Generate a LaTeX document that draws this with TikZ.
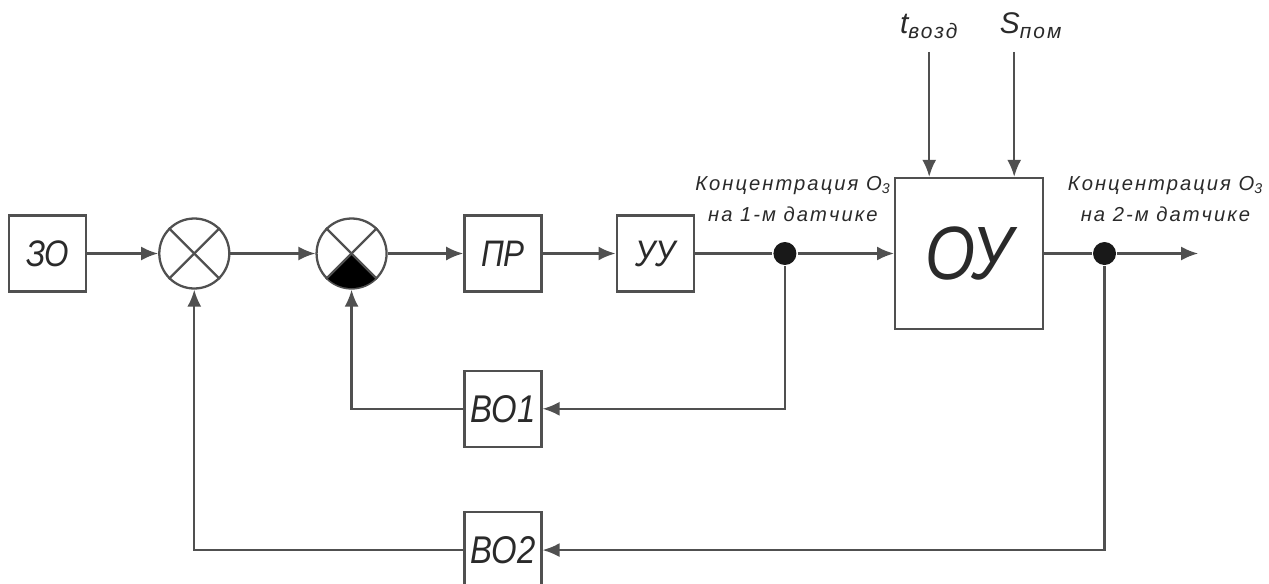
\documentclass[tikz,border=0pt]{standalone}
\usepackage{fontspec}
\setmainfont{Liberation Sans}
\newfontfamily\boxfont{Liberation Sans}[FakeStretch=0.85]
\newfontfamily\lblfont{Liberation Sans}[LetterSpace=10]
\usetikzlibrary{arrows.meta,positioning}
\definecolor{lncol}{HTML}{505050}
\definecolor{txtcol}{HTML}{2a2a2a}

\begin{document}
\begin{tikzpicture}[
    line width=1.3pt, color=lncol,
    blk/.style={draw=lncol, minimum width=1.54cm, minimum height=1.52cm, inner sep=0pt, text=txtcol, font=\boxfont\itshape\fontsize{21}{21}\selectfont},
    sum/.style={draw=lncol, circle, minimum size=1.4cm, inner sep=0pt},
    dot/.style={circle, fill=black!90, minimum size=0.46cm, inner sep=0pt},
    lbl/.style={text=txtcol, align=center, inner sep=0pt, font=\lblfont\itshape\fontsize{11.5}{17.5}\selectfont},
    arrow/.style={-{Latex[length=3.4mm,width=2.8mm]}}
]
    \useasboundingbox (0,0) rectangle (25.38,-11.66);

    \node[blk] (zo) at (0.95,-5.07) {ЗО};
    \node[sum, right=1.42cm of zo] (s1) {};
    \node[sum, right=1.70cm of s1] (s2) {};
    \node[blk, right=1.51cm of s2] (pr) {ПР};
    \node[blk, right=1.46cm of pr] (uu) {УУ};
    \node[dot, right=1.55cm of uu] (d1) {};
    \node[blk, right=1.93cm of d1, minimum width=2.96cm, minimum height=3.02cm,
          font=\boxfont\itshape\fontsize{43}{43}\selectfont] (ou) {ОУ};
    \node[dot, right=0.95cm of ou] (d2) {};
    \coordinate[right=1.62cm of d2] (out);
    \node[blk, below=1.54cm of pr, font=\boxfont\itshape\fontsize{22}{22}\selectfont] (vo1) {ВО1};
    \node[blk, below=1.26cm of vo1, font=\boxfont\itshape\fontsize{22}{22}\selectfont] (vo2) {ВО2};

    % summing junctions
    \fill[black] (s2.center) -- ++(-45:0.69) arc[start angle=-45, end angle=-135, radius=0.69] -- cycle;
    \foreach \s in {s1,s2} {
        \draw (\s.45) -- (\s.225);
        \draw (\s.135) -- (\s.-45);
    }

    % disturbances
    \coordinate (tin) at ([xshift=-0.8cm]ou.north);
    \coordinate (sin) at ([xshift=0.9cm]ou.north);
    \coordinate[above=2.5cm of tin] (ttop);
    \coordinate[above=2.5cm of sin] (sptop);
    \node[lbl, above=0.25cm of ttop, font=\lblfont\itshape\fontsize{17}{17}\selectfont] (tvozd) {t\textsubscript{возд}};
    \node[lbl, above=0.25cm of sptop, xshift=0.34cm, font=\lblfont\itshape\fontsize{17}{17}\selectfont] (spom) {S\textsubscript{пом}};

    \node[lbl] (c1) at ([xshift=0.16cm,yshift=1.09cm]d1) {Концентрация O\textsubscript{3}\\на 1-м датчике};
    \node[lbl] (c2) at ([xshift=1.22cm,yshift=1.09cm]d2) {Концентрация O\textsubscript{3}\\на 2-м датчике};

    \draw[arrow] (zo) -- (s1);
    \draw[arrow] (s1) -- (s2);
    \draw[arrow] (s2) -- (pr);
    \draw[arrow] (pr) -- (uu);
    \draw (uu) -- (d1);
    \draw[arrow] (d1) -- (ou);
    \draw (ou) -- (d2);
    \draw[arrow] (d2) -- (out);
    \draw[arrow] (ttop) -- (tin);
    \draw[arrow] (sptop) -- (sin);

    % feedback loops
    \draw[arrow] (d1) |- (vo1);
    \draw[arrow] (vo1) -| (s2);
    \draw[arrow] (d2) |- (vo2);
    \draw[arrow] (vo2) -| (s1);
\end{tikzpicture}
\end{document}
